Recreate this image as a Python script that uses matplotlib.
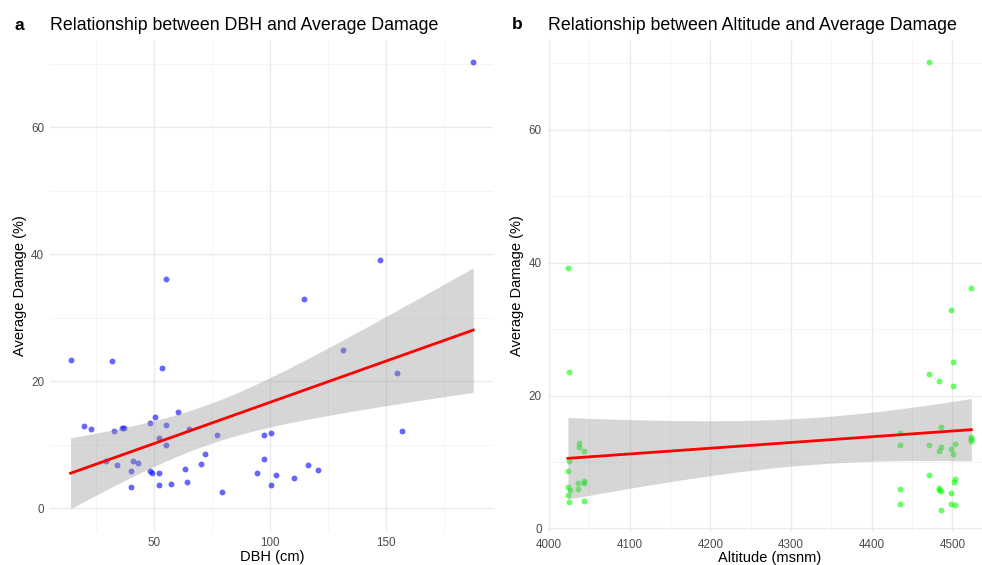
import numpy as np
import matplotlib
matplotlib.use('Agg')
import matplotlib.pyplot as plt
from matplotlib.ticker import MultipleLocator

plt.rcParams['font.family'] = ['Liberation Sans', 'DejaVu Sans']

# left panel: DBH vs damage
dbh = [14.1, 32.0, 55.2, 53.3, 20.0, 22.8, 33.0, 36.1, 37.2, 50.3, 48.3, 55.3,
       60.2, 52.3, 55.3, 65.1, 77.3, 29.3, 34.2, 41.1, 43.1, 40.1, 48.1, 49.1,
       52.3, 40.1, 52.3, 57.3, 63.4, 64.1, 70.4, 72.1, 79.4, 97.3, 100.4, 97.3,
       94.4, 102.4, 100.4, 110.5, 116.4, 120.5, 114.7, 131.6, 147.5, 154.6,
       156.8, 187.6]
damage_dbh = [23.4, 23.1, 36.1, 22.1, 12.9, 12.4, 12.1, 12.6, 12.6, 14.3, 13.4,
              13.1, 15.1, 11.1, 10.0, 12.4, 11.6, 7.4, 6.8, 7.4, 7.1, 5.9, 5.9,
              5.6, 5.6, 3.3, 3.6, 3.8, 6.1, 4.1, 6.9, 8.6, 2.6, 11.6, 11.8, 7.8,
              5.5, 5.3, 3.6, 4.8, 6.8, 6.0, 32.9, 24.9, 39.1, 21.3, 12.1, 70.2]

# right panel: altitude vs damage
altitude = [4024, 4025, 4037, 4037, 4044, 4025, 4023.5, 4023.5, 4026, 4036,
            4043, 4043, 4036, 4023.5, 4025, 4043,
            4486, 4434.7, 4434.7, 4471.5, 4486, 4483.5, 4503, 4498, 4501,
            4523.5, 4523.5, 4523.5, 4471.5, 4503, 4502, 4434.7, 4483.5, 4484,
            4486, 4498, 4434.7, 4498, 4503, 4486,
            4471.5, 4523.5, 4498, 4501, 4471.5, 4483.5, 4501]
damage_alt = [39.2, 23.5, 12.9, 12.2, 11.7, 10.2, 8.7, 6.3, 5.8, 6.9,
              7.2, 6.9, 5.9, 5.0, 4.0, 4.2,
              15.2, 14.4, 12.5, 12.5, 12.2, 11.7, 12.7, 12.0, 11.2,
              13.7, 13.4, 13.1, 8.0, 7.4, 7.0, 5.9, 6.1, 5.8,
              5.7, 5.4, 3.7, 3.7, 3.5, 2.8,
              70.2, 36.2, 32.9, 25.0, 23.2, 22.2, 21.4]

T_975 = 2.013


def fit_band(x, y):
    x = np.asarray(x, float)
    y = np.asarray(y, float)
    n = len(x)
    b, a = np.polyfit(x, y, 1)
    xs = np.linspace(x.min(), x.max(), 80)
    ys = a + b * xs
    s = np.sqrt(np.sum((y - (a + b * x)) ** 2) / (n - 2))
    se = s * np.sqrt(1 / n + (xs - x.mean()) ** 2 / np.sum((x - x.mean()) ** 2))
    return xs, ys, ys - T_975 * se, ys + T_975 * se


def draw_panel(ax, x, y, color, title, tag, xlabel, xmaj, xmin):
    xs, ys, lo, hi = fit_band(x, y)
    ax.scatter(x, y, s=18, color=color, alpha=0.6, linewidths=0, zorder=2)
    ax.fill_between(xs, lo, hi, color='#999999', alpha=0.4, linewidth=0, zorder=3)
    ax.plot(xs, ys, color='red', lw=2, zorder=4)

    x0, x1 = min(x), max(x)
    dx = (x1 - x0) * 0.05
    ax.set_xlim(x0 - dx, x1 + dx)
    y0, y1 = min(min(y), lo.min()), max(max(y), hi.max())
    dy = (y1 - y0) * 0.05
    ax.set_ylim(y0 - dy, y1 + dy)

    ax.xaxis.set_major_locator(MultipleLocator(xmaj))
    ax.xaxis.set_minor_locator(MultipleLocator(xmin))
    ax.yaxis.set_major_locator(MultipleLocator(20))
    ax.yaxis.set_minor_locator(MultipleLocator(10))
    ax.grid(which='major', color='#EBEBEB', lw=1.0, zorder=0)
    ax.grid(which='minor', color='#F3F3F3', lw=0.6, zorder=0)
    ax.set_axisbelow(True)
    for sp in ax.spines.values():
        sp.set_visible(False)
    ax.tick_params(which='both', length=0, labelsize=8.4, labelcolor='#4D4D4D', pad=4.5)

    ax.set_xlabel(xlabel, fontsize=10.5, labelpad=0.3)
    ax.set_ylabel('Average Damage (%)', fontsize=10.5, labelpad=3)
    ax.set_title(title, fontsize=12.8, loc='left', pad=7)
    ax.text(-0.082, 1.0205, tag, transform=ax.transAxes, fontsize=12.5,
            fontweight='bold', va='baseline', ha='left')


fig = plt.figure(figsize=(9.82, 5.65), dpi=100)
ax1 = fig.add_axes([0.0514, 0.0602, 0.451, 0.869])
ax2 = fig.add_axes([0.5578, 0.0579, 0.4519, 0.8722])

draw_panel(ax1, dbh, damage_dbh, 'blue',
           'Relationship between DBH and Average Damage', 'a', 'DBH (cm)', 50, 25)
draw_panel(ax2, altitude, damage_alt, '#00FF00',
           'Relationship between Altitude and Average Damage', 'b', 'Altitude (msnm)', 100, 50)

fig.savefig('out.png', dpi=100)
plt.close(fig)
